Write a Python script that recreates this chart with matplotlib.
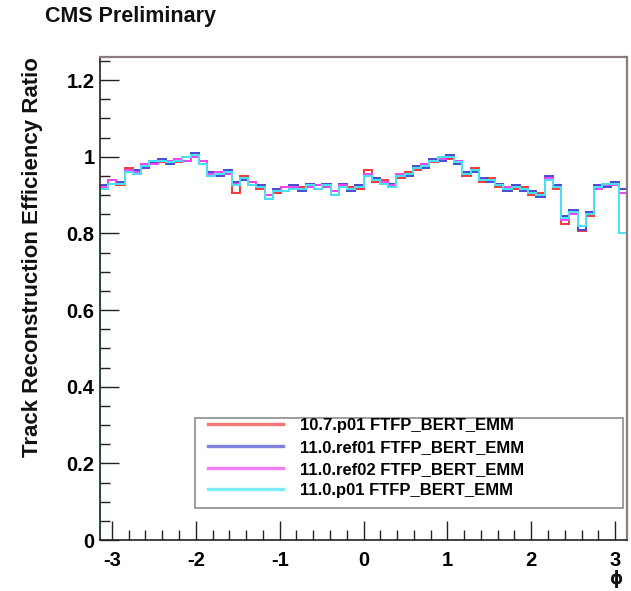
import numpy as np
import matplotlib
matplotlib.use("Agg")
import matplotlib.pyplot as plt
from matplotlib.lines import Line2D
from matplotlib.patches import Rectangle

plt.rcParams['font.family'] = ['Liberation Sans', 'DejaVu Sans']
plt.rcParams['font.weight'] = 'bold'
plt.rcParams['axes.unicode_minus'] = False

labels = ["10.7.p01 FTFP_BERT_EMM", "11.0.ref01 FTFP_BERT_EMM",
          "11.0.ref02 FTFP_BERT_EMM", "11.0.p01 FTFP_BERT_EMM"]
colors = ['#f03a3a', '#4a4ad0', '#f045f0', '#45e4f4']

n_bins = 64
phi_min, phi_max = -np.pi, np.pi

red = [0.915,0.94,0.925,0.97,0.955,0.98,0.99,0.985,0.99,0.985,1.0,1.0,0.99,0.95,0.96,0.955,
       0.905,0.95,0.935,0.915,0.9,0.905,0.92,0.915,0.92,0.92,0.925,0.92,0.91,0.92,0.92,0.915,
       0.965,0.935,0.94,0.92,0.945,0.96,0.965,0.98,0.985,1.0,0.995,0.99,0.95,0.97,0.935,0.945,
       0.92,0.92,0.915,0.92,0.9,0.905,0.94,0.915,0.825,0.85,0.805,0.845,0.915,0.93,0.925,0.905]
blue = [0.925,0.93,0.935,0.96,0.965,0.97,0.985,0.995,0.98,0.99,0.99,1.01,0.98,0.96,0.95,0.965,
        0.935,0.94,0.925,0.925,0.89,0.915,0.91,0.925,0.91,0.93,0.915,0.93,0.9,0.93,0.91,0.925,
        0.95,0.945,0.93,0.93,0.95,0.95,0.975,0.97,0.995,0.99,1.005,0.98,0.96,0.96,0.945,0.935,
        0.93,0.91,0.925,0.91,0.91,0.895,0.95,0.925,0.845,0.86,0.81,0.855,0.925,0.92,0.935,0.915]
magenta = [0.92,0.94,0.93,0.965,0.96,0.98,0.98,0.99,0.99,0.995,0.99,1.0,0.99,0.955,0.96,0.955,
           0.93,0.945,0.935,0.92,0.9,0.91,0.92,0.92,0.915,0.92,0.925,0.92,0.91,0.925,0.915,0.92,
           0.955,0.94,0.935,0.925,0.955,0.955,0.97,0.98,0.99,0.995,1.0,0.99,0.955,0.965,0.94,0.94,
           0.925,0.92,0.92,0.915,0.905,0.9,0.945,0.92,0.835,0.85,0.82,0.85,0.915,0.925,0.925,0.905]
cyan = [0.915,0.93,0.93,0.96,0.955,0.975,0.99,0.99,0.985,0.99,1.0,1.005,0.98,0.95,0.955,0.96,
        0.925,0.945,0.925,0.92,0.89,0.91,0.91,0.915,0.915,0.925,0.915,0.925,0.9,0.92,0.915,0.92,
        0.95,0.94,0.93,0.92,0.95,0.955,0.97,0.975,0.99,1.0,1.0,0.985,0.955,0.965,0.94,0.94,
        0.925,0.915,0.92,0.915,0.905,0.9,0.94,0.92,0.84,0.855,0.82,0.85,0.92,0.93,0.93,0.80]
series = [red, blue, magenta, cyan]

edges = np.linspace(phi_min, phi_max, n_bins + 1)

fig = plt.figure(figsize=(6.31, 5.91), dpi=100)
ax = fig.add_axes([100/631, 51/591, 527/631, 483/591])

for vals, c in zip(series, colors):
    ax.stairs(vals, edges, color=c, lw=1.4)

ax.set_xlim(phi_min, phi_max)
ax.set_ylim(0, 1.26)
ax.set_xticks([-3, -2, -1, 0, 1, 2, 3])
ax.set_xticks(np.arange(-3.0, 3.11, 0.2), minor=True)
ax.set_yticks([0, 0.2, 0.4, 0.6, 0.8, 1.0, 1.2])
ax.set_yticks(np.arange(0, 1.251, 0.05), minor=True)
ax.set_yticklabels(['0', '0.2', '0.4', '0.6', '0.8', '1', '1.2'])
ax.tick_params(which='both', direction='in', top=False, right=False,
               labelsize=14.5, width=1.0, color='#222222')
ax.tick_params(which='major', length=14)
ax.tick_params(which='minor', length=7)
ax.tick_params(axis='x', pad=8)
ax.tick_params(axis='y', pad=4)
for lab in ax.get_xticklabels() + ax.get_yticklabels():
    lab.set_fontweight('bold')

for s in ['left', 'bottom']:
    ax.spines[s].set_color('#222222')
    ax.spines[s].set_linewidth(1.2)
for s in ['top', 'right']:
    ax.spines[s].set_color('#8c7c7c')
    ax.spines[s].set_linewidth(1.6)

# legend box
box = Rectangle((0.18, 0.066), 0.812, 0.187, transform=ax.transAxes,
                facecolor='white', edgecolor='#8c8c8c', lw=1.2, zorder=4)
ax.add_patch(box)
handles = [Line2D([], [], color=c, lw=2.4, alpha=0.7) for c in colors]
leg = ax.legend(handles, labels, loc='upper left',
                bbox_to_anchor=(0.205, 0.252),
                prop={'size': 12, 'weight': 'bold'}, frameon=False,
                handlelength=4.5, handletextpad=1.0, labelspacing=0.4,
                borderpad=0.0, borderaxespad=0.0)
leg.set_zorder(5)

fig.text(45/631, 1 - 22/591, 'CMS Preliminary', fontsize=15.5, fontweight='bold',
         ha='left', va='baseline', color='#111111')
fig.text(33/631, 1 - 57/591, 'Track Reconstruction Efficiency Ratio', fontsize=16,
         fontweight='bold', rotation=90, ha='center', va='top', color='#111111')
fig.text(617/631, 1 - 579/591, 'ϕ', fontsize=12, fontweight='bold',
         ha='center', va='center', family=['DejaVu Sans'], color='#111111')

fig.savefig('out.png', dpi=100)
